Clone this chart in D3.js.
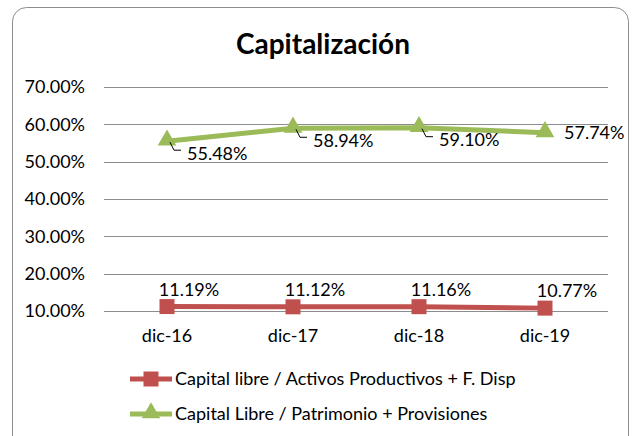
<!DOCTYPE html>
<html>
<head>
<meta charset="utf-8">
<script src="https://cdn.jsdelivr.net/npm/d3@7"></script>
<style>
  body { margin: 0; background: #fff; }
  svg { font-family: Lato, "Liberation Sans", sans-serif; }
</style>
</head>
<body>
<div id="graphic"></div>
<script>
// data
var categories = ["dic-16", "dic-17", "dic-18", "dic-19"];
var seriesNames = ["Capital libre / Activos Productivos + F. Disp", "Capital Libre / Patrimonio + Provisiones"];
var activosValues = [0.1119, 0.1112, 0.1116, 0.1077];
var patrimonioValues = [0.5548, 0.5894, 0.5910, 0.5774];
var yTicks = [0.1, 0.2, 0.3, 0.4, 0.5, 0.6, 0.7];

var W = 634, H = 436;
var red = "#C0504D", green = "#9BBB59";
var fs = 18;

var svg = d3.select("#graphic").append("svg")
    .attr("width", W)
    .attr("height", H);

// chart border (rounded, bottom runs off the picture)
svg.append("rect")
    .attr("x", 12.5).attr("y", 7.5)
    .attr("width", 616).attr("height", 445)
    .attr("rx", 14)
    .attr("fill", "#fff")
    .attr("stroke", "#8c8c8c");

svg.append("text")
    .attr("x", 323).attr("y", 54)
    .attr("text-anchor", "middle")
    .attr("font-size", 28)
    .attr("font-weight", "bold")
    .text("Capitalización");

var x = d3.scaleBand().domain(categories).range([104, 608]);
var y = d3.scaleLinear().domain([0.1, 0.7]).range([311, 87]);

// gridlines
svg.append("g")
    .selectAll("line")
    .data(yTicks)
    .enter()
    .append("line")
    .attr("x1", 104).attr("x2", 608)
    .attr("y1", function(d) { return Math.round(y(d)) + 0.5; })
    .attr("y2", function(d) { return Math.round(y(d)) + 0.5; })
    .attr("stroke", "#8c8c8c");

// y axis labels
var yAxis = d3.axisLeft(y).tickValues(yTicks).tickFormat(d3.format(".2%")).tickSize(0).tickPadding(19);
svg.append("g")
    .attr("transform", "translate(104,0)")
    .call(yAxis)
    .call(function(g) { g.select(".domain").remove(); })
    .selectAll("text")
    .attr("font-family", "Lato, 'Liberation Sans', sans-serif")
    .attr("font-size", fs)
    .attr("fill", "#000");

// x axis labels
var xAxis = d3.axisBottom(x).tickSize(0).tickPadding(18);
svg.append("g")
    .attr("transform", "translate(0,311)")
    .call(xAxis)
    .call(function(g) { g.select(".domain").remove(); })
    .selectAll("text")
    .attr("font-family", "Lato, 'Liberation Sans', sans-serif")
    .attr("font-size", fs)
    .attr("fill", "#000");

function cx(i) { return x(categories[i]) + x.bandwidth() / 2; }

var line = d3.line()
    .x(function(d, i) { return cx(i); })
    .y(function(d) { return y(d); });

var tri = d3.symbol().type(d3.symbolTriangle).size(150);

// green series
svg.append("path")
    .datum(patrimonioValues)
    .attr("d", line)
    .attr("fill", "none")
    .attr("stroke", green)
    .attr("stroke-width", 5);

svg.selectAll(null)
    .data(patrimonioValues)
    .enter()
    .append("path")
    .attr("d", tri)
    .attr("transform", function(d, i) { return "translate(" + cx(i) + "," + (y(d) - 1) + ")"; })
    .attr("fill", green);

// red series
svg.append("path")
    .datum(activosValues)
    .attr("d", line)
    .attr("fill", "none")
    .attr("stroke", red)
    .attr("stroke-width", 5);

svg.selectAll(null)
    .data(activosValues)
    .enter()
    .append("rect")
    .attr("x", function(d, i) { return cx(i) - 7.5; })
    .attr("y", function(d) { return y(d) - 7.5; })
    .attr("width", 15).attr("height", 15)
    .attr("fill", red);

// green data labels with leader lines (last one sits beside its marker)
svg.selectAll(null)
    .data(patrimonioValues)
    .enter()
    .append("path")
    .filter(function(d, i) { return i < patrimonioValues.length - 1; })
    .attr("d", function(d, i) {
        var mx = cx(i), my = y(d);
        return "M" + (mx + 3) + "," + (my + 1) + "L" + (mx + 7) + "," + (my + 9) + "L" + (mx + 14) + "," + (my + 9);
    })
    .attr("fill", "none")
    .attr("stroke", "#000")
    .attr("stroke-width", 1);

svg.selectAll(null)
    .data(patrimonioValues)
    .enter()
    .append("text")
    .attr("x", function(d, i) { return cx(i) + (i < patrimonioValues.length - 1 ? 20 : 19); })
    .attr("y", function(d, i) { return y(d) + (i < patrimonioValues.length - 1 ? 12 : 0); })
    .attr("dy", "0.35em")
    .attr("font-size", fs)
    .text(function(d) { return d3.format(".2%")(d); });

// red data labels
svg.selectAll(null)
    .data(activosValues)
    .enter()
    .append("text")
    .attr("x", function(d, i) { return cx(i) + 22; })
    .attr("y", function(d) { return y(d) - 17; })
    .attr("dy", "0.35em")
    .attr("text-anchor", "middle")
    .attr("font-size", fs)
    .text(function(d) { return d3.format(".2%")(d); });

// legend
var legend = svg.append("g");
var rows = legend.selectAll("g")
    .data(seriesNames)
    .enter()
    .append("g")
    .attr("transform", function(d, i) { return "translate(130," + (379 + i * 35) + ")"; });

rows.append("line")
    .attr("x1", 0).attr("x2", 42)
    .attr("stroke", function(d, i) { return i == 0 ? red : green; })
    .attr("stroke-width", 5);

rows.filter(function(d, i) { return i == 0; })
    .append("rect")
    .attr("x", 13.5).attr("y", -7.5)
    .attr("width", 15).attr("height", 15)
    .attr("fill", red);

rows.filter(function(d, i) { return i == 1; })
    .append("path")
    .attr("d", tri)
    .attr("transform", "translate(21,-1)")
    .attr("fill", green);

rows.append("text")
    .attr("x", 45)
    .attr("dy", "0.35em")
    .attr("font-size", fs)
    .text(function(d) { return d; });
</script>
</body>
</html>
